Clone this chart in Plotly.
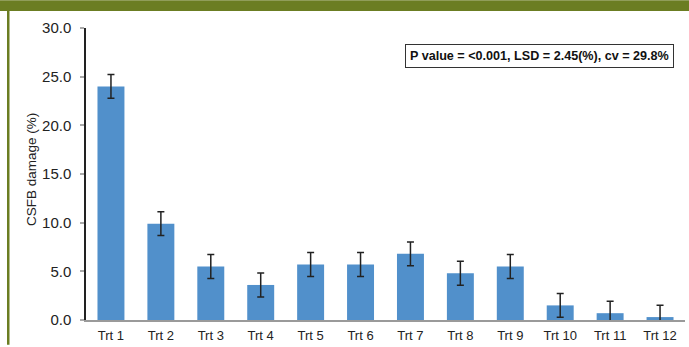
import plotly.graph_objects as go

categories = ["Trt 1", "Trt 2", "Trt 3", "Trt 4", "Trt 5", "Trt 6",
              "Trt 7", "Trt 8", "Trt 9", "Trt 10", "Trt 11", "Trt 12"]
damage = [24.0, 9.9, 5.5, 3.6, 5.7, 5.7, 6.8, 4.8, 5.5, 1.5, 0.7, 0.3]
error = [1.225] * 12
y_ticks = [0, 5, 10, 15, 20, 25, 30]

W, H = 689, 347
L, R, T, B = 86, 4, 28, 25
pw, ph = W - L - R, H - T - B

def px(x):
    return (x - L) / pw

def py(y):
    return (H - y - B) / ph

FONT = "Arial, Liberation Sans, Helvetica, sans-serif"
GREEN = "#6b7d22"

fig = go.Figure(go.Bar(
    x=categories, y=damage,
    marker=dict(color="#5190cb", line=dict(width=0)),
    error_y=dict(type="data", array=error, visible=True,
                 color="#222222", thickness=1.5, width=3.5),
    width=0.54,
))

fig.update_layout(
    width=W, height=H,
    margin=dict(l=L, r=R, t=T, b=B, pad=0),
    paper_bgcolor="white", plot_bgcolor="white",
    showlegend=False,
    font=dict(family=FONT, color="#222222"),
    xaxis=dict(showline=True, linecolor="#9a9a9a", linewidth=1.5,
               ticks="", showgrid=False, zeroline=False,
               tickfont=dict(size=13, color="#222222"),
               ticklabelstandoff=3,
               range=[-0.5, 11.5]),
    yaxis=dict(range=[0, 30], tickvals=y_ticks, tickformat=".1f",
               showline=True, linecolor="#222222", linewidth=1.5,
               ticks="outside", ticklen=4, tickcolor="#aaaaaa", tickwidth=1.5,
               showgrid=False, zeroline=False,
               ticklabelstandoff=6,
               tickfont=dict(size=15, color="#222222")),
    shapes=[
        dict(type="rect", xref="paper", yref="paper",
             x0=px(0), x1=px(W), y0=py(11), y1=py(0),
             fillcolor=GREEN, line=dict(width=0), layer="above"),
        dict(type="rect", xref="paper", yref="paper",
             x0=px(7), x1=px(9.5), y0=py(H), y1=py(11),
             fillcolor=GREEN, line=dict(width=0), layer="above"),
    ],
    annotations=[
        dict(text="CSFB damage (%)", textangle=-90, xref="paper", yref="paper",
             x=px(31), y=py(171), showarrow=False, xanchor="center", yanchor="middle",
             font=dict(size=13.5, color="#222222")),
        dict(text="<b>P value = <0.001, LSD = 2.45(%), cv = 29.8%</b>",
             xref="paper", yref="paper", x=px(674), y=py(56),
             xanchor="right", yanchor="middle", showarrow=False,
             bordercolor="#333333", borderwidth=1, borderpad=4, bgcolor="white",
             font=dict(size=12.6, color="#111111")),
    ],
)

fig.write_html("out.html")
